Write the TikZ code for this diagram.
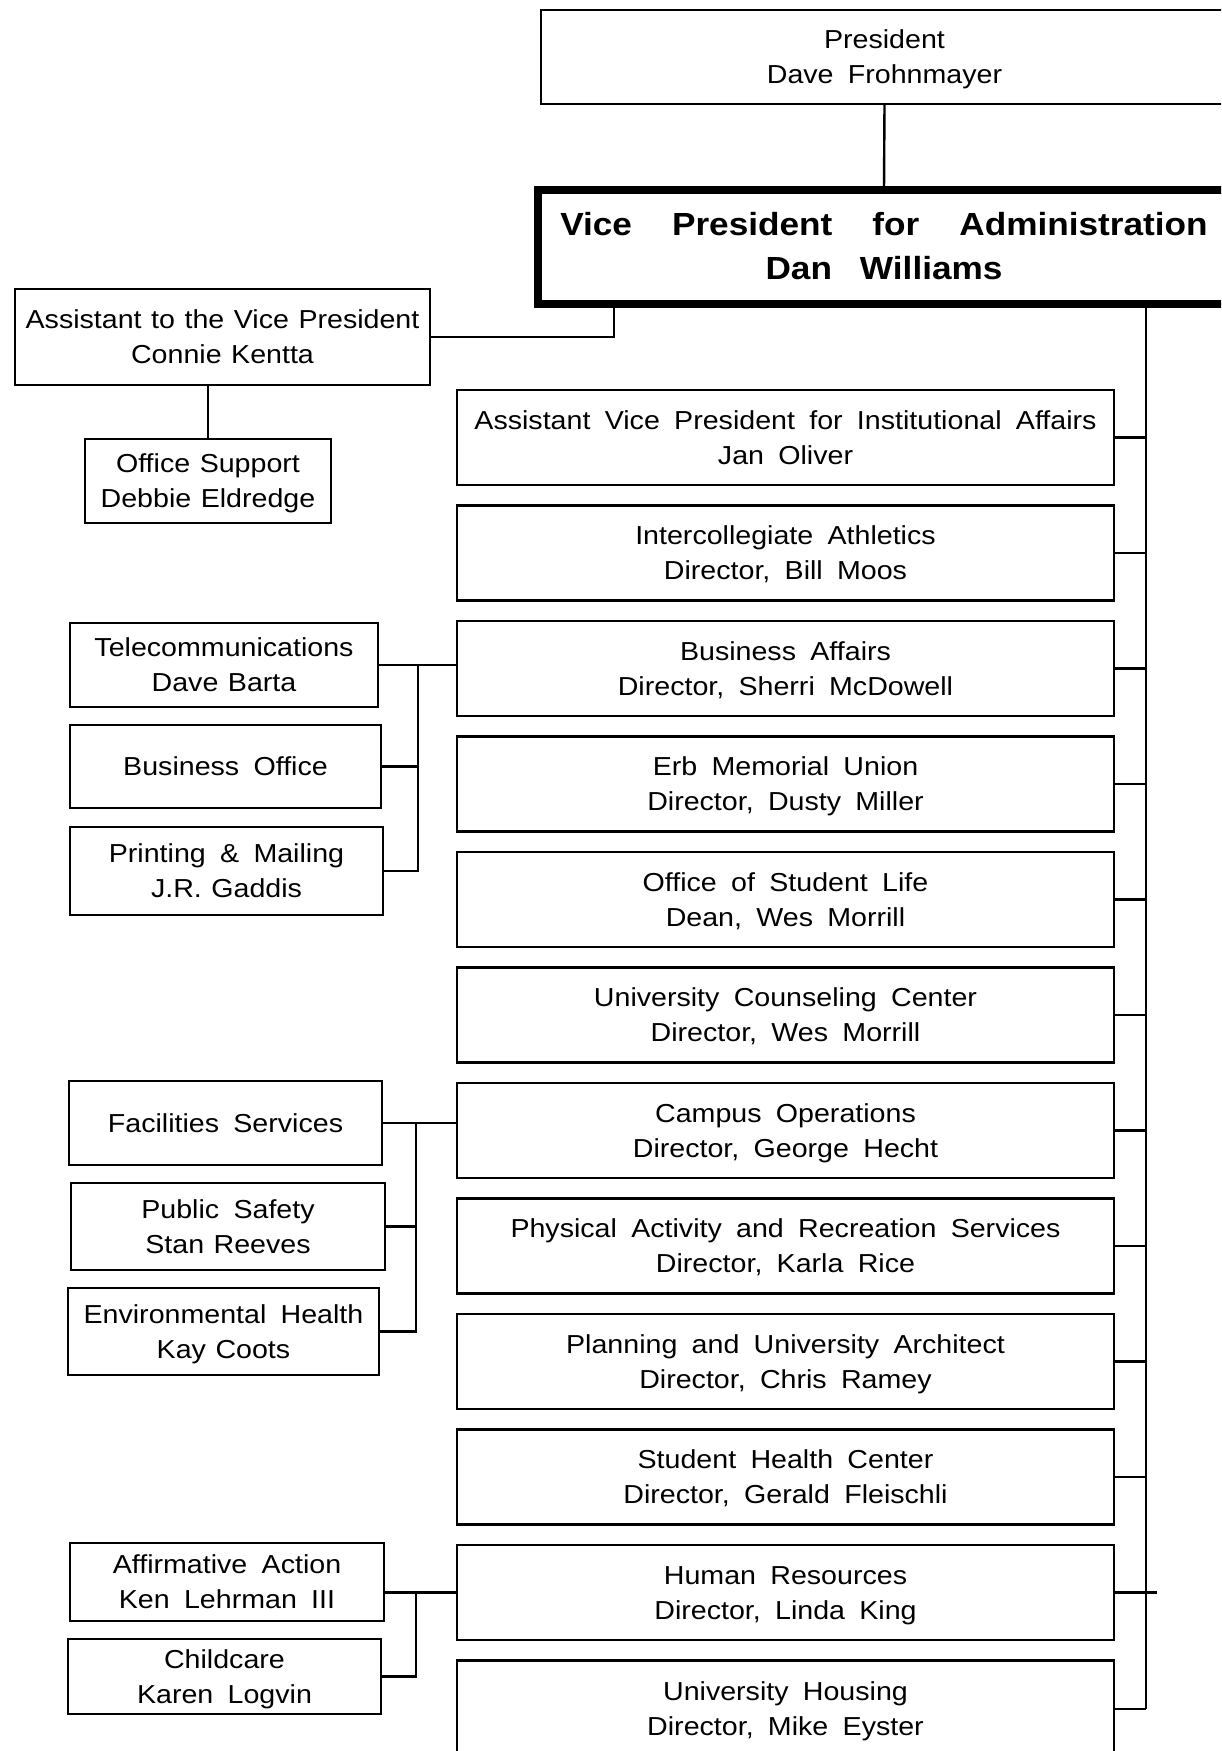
\documentclass[tikz,border=0pt]{standalone}
\usepackage{fontspec}
\setmainfont{Liberation Sans}[FakeStretch=1.1,WordSpace=1.8]
\newfontfamily\tightfont{Liberation Sans}[FakeStretch=1.1,WordSpace=1.2]

% two-line and one-line box labels, with fixed struts so every box centres alike
\newcommand{\twoline}[2]{\rule{0pt}{12pt}#1\\#2\rule[-3pt]{0pt}{3pt}}
\newcommand{\oneline}[1]{\rule{0pt}{12pt}#1\rule[-3pt]{0pt}{3pt}}
\newcommand{\vpgap}{\hspace{20pt}}

% \orgbox[style]{name}{x1}{y1}{x2}{y2}{label}  -- box given by its corners
\newcommand{\orgbox}[7][]{%
  \node[box,#1,minimum width={(#5-#3)*0.5pt},minimum height={(#6-#4)*0.5pt}]
    (#2) at ({(#3+#5)/2},{(#4+#6)/2}) {#7};}

\begin{document}
\begin{tikzpicture}[x=0.5pt,y=-0.5pt,
  box/.style={draw,line width=1.4pt,inner sep=0pt,outer sep=0pt,align=center,
              font=\fontsize{13}{17.5}\selectfont},
  tight/.style={font=\tightfont\fontsize{13}{17.5}\selectfont},
  vpbox/.style={line width=4pt,font=\fontsize{16}{22}\selectfont\bfseries},
  link/.style={line width=1.2pt}]
\useasboundingbox (0,0) rectangle (1221,1751);
\clip (0,0) rectangle (1221,1751);
\fill[white] (0,0) rectangle (1221,1751);

% top of the chart
\orgbox{pres}{541}{10}{1228}{104}{\twoline{President}{Dave Frohnmayer}}
\orgbox[vpbox]{vp}{538}{190}{1230}{304}{%
  \rule{0pt}{13pt}Vice\vpgap President\vpgap for\vpgap Administration\\
  Dan\hspace{14pt}Williams\rule[-3pt]{0pt}{3pt}}

% staff of the vice president
\orgbox[tight]{asst}{15}{289}{430}{385}{\twoline{Assistant to the Vice President}{Connie Kentta}}
\orgbox[tight]{osup}{85}{439}{331}{523}{\twoline{Office Support}{Debbie Eldredge}}

% units reporting to the vice president
\orgbox{r1}{457}{390}{1114}{485}{\twoline{Assistant Vice President for Institutional Affairs}{Jan Oliver}}
\orgbox{r2}{457}{505.5}{1114}{600.5}{\twoline{Intercollegiate Athletics}{Director, Bill Moos}}
\orgbox{r3}{457}{621}{1114}{716}{\twoline{Business Affairs}{Director, Sherri McDowell}}
\orgbox{r4}{457}{736.5}{1114}{831.5}{\twoline{Erb Memorial Union}{Director, Dusty Miller}}
\orgbox{r5}{457}{852}{1114}{947}{\twoline{Office of Student Life}{Dean, Wes Morrill}}
\orgbox{r6}{457}{967.5}{1114}{1062.5}{\twoline{University Counseling Center}{Director, Wes Morrill}}
\orgbox{r7}{457}{1083}{1114}{1178}{\twoline{Campus Operations}{Director, George Hecht}}
\orgbox{r8}{457}{1198.5}{1114}{1293.5}{\twoline{Physical Activity and Recreation Services}{Director, Karla Rice}}
\orgbox{r9}{457}{1314}{1114}{1409}{\twoline{Planning and University Architect}{Director, Chris Ramey}}
\orgbox{r10}{457}{1429.5}{1114}{1524.5}{\twoline{Student Health Center}{Director, Gerald Fleischli}}
\orgbox{r11}{457}{1545}{1114}{1640}{\twoline{Human Resources}{Director, Linda King}}
\orgbox{r12}{457}{1660.5}{1114}{1757}{\twoline{University Housing}{Director, Mike Eyster}}

% units under Business Affairs
\orgbox[tight]{tel}{70}{623}{378}{707}{\twoline{Telecommunications}{Dave Barta}}
\orgbox{bo}{70}{725}{381}{808}{\oneline{Business Office}}
\orgbox{pm}{70}{827}{383}{915}{\twoline{Printing \& Mailing}{{\tightfont J.R. Gaddis}}}

% units under Campus Operations
\orgbox{fac}{69}{1081}{382}{1165}{\oneline{Facilities Services}}
\orgbox{ps}{71}{1183}{385}{1270}{\twoline{Public Safety}{{\tightfont Stan Reeves}}}
\orgbox{eh}{68}{1288}{379}{1375}{\twoline{Environmental Health}{{\tightfont Kay Coots}}}

% units under Human Resources
\orgbox{aa}{70}{1543}{384}{1621}{\twoline{Affirmative Action}{Ken Lehrman III}}
\orgbox{cc}{68}{1639}{381}{1714}{\twoline{Childcare}{Karen Logvin}}

% connector anchor points
\coordinate (vpleft) at (614,304);
\coordinate (spine) at (1146,304);
\coordinate (hrtick) at (1157,0);
\coordinate (busA) at (418,0);
\coordinate (busB) at (416,0);
\coordinate (busC) at (416,0);

% president to vice president, and the assistant
\draw[link] (pres.south) -- (vp.north);
\draw[link] (asst.east) -| (vpleft);
\draw[link] (osup.north) -- (osup.north |- asst.south);

% main spine on the right
\draw[link] (spine) -- (spine |- r12.east);
\foreach \n in {r1,r2,r3,r4,r5,r6,r7,r8,r9,r10,r12}
  \draw[link] (\n.east) -- (\n.east -| spine);
\draw[link] (r11.east) -- (r11.east -| hrtick);

% Business Affairs group
\draw[link] (tel.east) -- (tel.east -| r3.west);
\draw[link] (tel.east -| busA) |- (pm.east);
\draw[link] (bo.east) -- (bo.east -| busA);

% Campus Operations group
\draw[link] (fac.east) -- (fac.east -| r7.west);
\draw[link] (fac.east -| busB) |- (eh.east);
\draw[link] (ps.east) -- (ps.east -| busB);

% Human Resources group
\draw[link] (r11.west) -- (r11.west -| aa.east);
\draw[link] (r11.west -| busC) |- (cc.east);
\end{tikzpicture}
\end{document}
